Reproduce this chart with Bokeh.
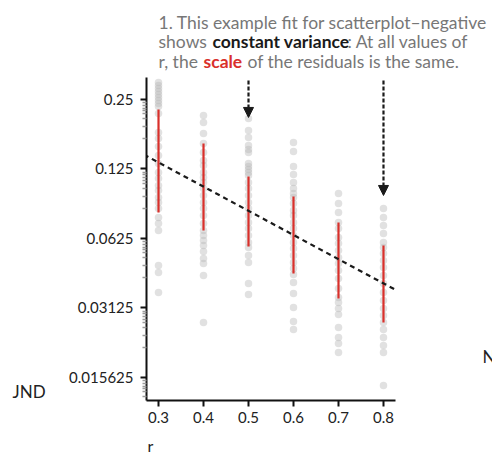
from bokeh.plotting import figure
from bokeh.layouts import column, row
from bokeh.models import Range1d, FixedTicker, Label, Arrow, NormalHead
from bokeh.embed import file_html
from bokeh.resources import INLINE

# ---------------- data ----------------
r_levels = [0.3, 0.4, 0.5, 0.6, 0.7, 0.8]
r_tick_labels = ["0.3", "0.4", "0.5", "0.6", "0.7", "0.8"]

jnd_r03 = [0.2962, 0.2875, 0.2790, 0.2708, 0.2628, 0.2550, 0.2475, 0.2402, 0.2331,
           0.2174, 0.1799, 0.1694, 0.1564, 0.1430, 0.1320, 0.1207, 0.1137, 0.1060,
           0.1009, 0.09407, 0.08950, 0.08430, 0.07706, 0.07258, 0.06769, 0.04775,
           0.04453, 0.03647]
jnd_r04 = [0.2131, 0.1988, 0.1781, 0.1612, 0.1474, 0.1361, 0.1294, 0.1207, 0.1148,
           0.1093, 0.1029, 0.09597, 0.08950, 0.08430, 0.07861, 0.07258, 0.06769,
           0.06440, 0.06127, 0.05829, 0.05490, 0.05120, 0.04871, 0.04321, 0.02704]
jnd_r05 = [0.2068, 0.1835, 0.1711, 0.1580, 0.1518, 0.1474, 0.1320, 0.1282, 0.1244,
           0.1207, 0.1172, 0.1093, 0.1029, 0.09597, 0.08950, 0.08430, 0.07861,
           0.07331, 0.06905, 0.06440, 0.06006, 0.05713, 0.05275, 0.04920, 0.03990,
           0.03575]
jnd_r06 = [0.1628, 0.1488, 0.1282, 0.1183, 0.1093, 0.1029, 0.09790, 0.09407, 0.08861,
           0.08263, 0.07861, 0.07331, 0.06905, 0.06440, 0.06006, 0.05657, 0.05275,
           0.04920, 0.04634, 0.04365, 0.04030, 0.03611, 0.03141, 0.02731, 0.02522]
jnd_r07 = [0.09790, 0.08861, 0.08100, 0.07331, 0.06905, 0.06313, 0.05946, 0.05545,
           0.05171, 0.04871, 0.04542, 0.04194, 0.03796, 0.03470, 0.03301, 0.03109,
           0.02929, 0.02573, 0.02329, 0.02193, 0.02005]
jnd_r08 = [0.08430, 0.07706, 0.07115, 0.06570, 0.06006, 0.05713, 0.05382, 0.05019,
           0.04680, 0.04321, 0.03990, 0.03647, 0.03368, 0.03109, 0.02900, 0.02704,
           0.02522, 0.02329, 0.02150, 0.02005, 0.01443]

interval_hi = [0.2263, 0.1612, 0.1160, 0.09502, 0.07331, 0.05829]
interval_lo = [0.0810, 0.06769, 0.05771, 0.04408, 0.03436, 0.02704]

fit_log2_intercept = -1.862
fit_log2_slope = -3.48

y_ticks = [0.25, 0.125, 0.0625, 0.03125, 0.015625]
y_tick_labels = ["0.25", "0.125", "0.0625", "0.03125", "0.015625"]

arrow_r = [0.5, 0.8]
arrow_top = [0.302, 0.302]
arrow_tip = [0.209, 0.096]

# ---------------- geometry (canvas pixels) ----------------
W, H = 492, 452
TOP_H = 77          # annotation strip
BOT_H = 22          # strip holding "r"
LEFT_W = 60         # strip holding "JND"
RIGHT_W = 12        # strip holding "N"
MID_H = H - TOP_H - BOT_H
MAIN_W = W - LEFT_W - RIGHT_W
FL, FR, FB = 146, 395, 400   # frame left / right / bottom in canvas px

GRAY = "#777777"
INK = "#222222"
RED = "#d9302b"


def strip(width, height, x0, x1, y0, y1):
    f = figure(width=width, height=height, output_backend="svg", toolbar_location=None,
               x_range=Range1d(x0, x1), y_range=Range1d(y1, y0),
               x_axis_type=None, y_axis_type=None, min_border=0)
    f.min_border_left = f.min_border_right = f.min_border_top = f.min_border_bottom = 0
    f.outline_line_color = None
    f.grid.visible = False
    f.background_fill_color = "white"
    f.border_fill_color = "white"
    return f


def lab(f, X, Y, text, color=GRAY, style="normal", size="17.5px"):
    # Y given as the alphabetic baseline measured in the reference (canvas px)
    f.add_layout(Label(x=X, y=Y - 7.5, text=text, text_font="Lato",
                       text_font_size=size, text_color=color,
                       text_font_style=style, text_baseline="alphabetic",
                       text_align="left"))


# ---- top annotation strip ----
top = strip(W, TOP_H, 0, W, 0, TOP_H)
lab(top, 158, 29.3, "1. This example fit for scatterplot–negative")
lab(top, 158, 48.5, "shows ")
lab(top, 212, 48.5, "constant variance", color="#1a1a1a", style="bold")
lab(top, 347, 48.5, ": At all values of")
lab(top, 158, 68.0, "r, the ")
lab(top, 203, 68.0, "scale", color=RED, style="bold")
lab(top, 247, 68.0, "of the residuals is the same.")

# ---- left / right / bottom strips ----
# in a row, the strips' frames are aligned with the main frame (77..400)
left = strip(LEFT_W, MID_H, 0, LEFT_W, TOP_H, FB)
lab(left, 12, 398, "JND", color=INK, size="17px")

right = strip(RIGHT_W, MID_H, W - RIGHT_W, W, TOP_H, FB)
lab(right, 482, 363, "N", color=INK, size="17px")

bottom = strip(W, BOT_H, 0, W, TOP_H + MID_H, H)
lab(bottom, 147, 452.5, "r", color=INK, size="16px")

# ---- main chart ----
p = figure(width=MAIN_W, height=MID_H, output_backend="svg", toolbar_location=None,
           y_axis_type="log",
           x_range=Range1d(0.2733, 0.8267), y_range=Range1d(0.01242, 0.3113),
           min_border_left=FL - LEFT_W, min_border_right=LEFT_W + MAIN_W - FR,
           min_border_top=0, min_border_bottom=TOP_H + MID_H - FB)
p.outline_line_color = None
p.grid.visible = False
p.background_fill_color = "white"
p.border_fill_color = "white"

xs, ys = [], []
for r, vals in zip(r_levels, [jnd_r03, jnd_r04, jnd_r05, jnd_r06, jnd_r07, jnd_r08]):
    xs += [r] * len(vals)
    ys += vals
p.scatter(xs, ys, size=7.5, fill_color="#b8b8b8", fill_alpha=0.42, line_color=None)

p.segment(x0=r_levels, y0=interval_lo, x1=r_levels, y1=interval_hi,
          line_color=RED, line_width=2.2)

fx = [0.25, 0.85]
fy = [2 ** (fit_log2_intercept + fit_log2_slope * x) for x in fx]
p.line(fx, fy, line_color="#1a1a1a", line_width=2.2, line_dash="5 4")

for r, y0, y1 in zip(arrow_r, arrow_top, arrow_tip):
    p.add_layout(Arrow(x_start=r, y_start=y0, x_end=r, y_end=y1,
                       line_color="#1a1a1a", line_width=2.2, line_dash="4 2",
                       end=NormalHead(size=10, fill_color="#1a1a1a", line_color="#1a1a1a")))

minor_offsets = [0.048, 0.086, 0.124, 0.162, 0.205, 0.276, 0.395, 0.562]
minor = [t * 2 ** (-f) for t in y_ticks for f in minor_offsets]
p.yaxis.ticker = FixedTicker(ticks=y_ticks, minor_ticks=minor)
p.yaxis.major_label_overrides = dict(zip(y_ticks, y_tick_labels))
p.xaxis.ticker = FixedTicker(ticks=r_levels)
p.xaxis.major_label_overrides = dict(zip(r_levels, r_tick_labels))

for ax in (p.xaxis, p.yaxis):
    ax.axis_line_width = 2
    ax.axis_line_color = "#111111"
    ax.major_tick_line_width = 2
    ax.major_tick_line_color = "#111111"
    ax.major_tick_out = 6
    ax.major_tick_in = 0
    ax.major_label_text_font = "Lato"
    ax.major_label_text_font_size = "15px"
    ax.major_label_text_color = INK
p.yaxis.minor_tick_out = 4
p.yaxis.minor_tick_in = 0
p.yaxis.minor_tick_line_color = "#9a9a9a"
p.yaxis.minor_tick_line_width = 1.5
p.yaxis.major_label_standoff = 7
p.xaxis.minor_tick_line_color = None
p.xaxis.major_label_standoff = 5

layout = column(top, row(left, p, right), bottom)
open("out.html", "w").write(file_html(layout, INLINE))
